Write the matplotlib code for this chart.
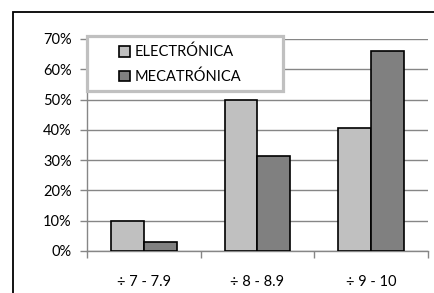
import matplotlib
matplotlib.use("Agg")
import matplotlib.pyplot as plt
import numpy as np
from matplotlib.patches import Rectangle
from matplotlib.ticker import PercentFormatter

# data
categories = ["÷ 7 - 7.9", "÷ 8 - 8.9", "÷ 9 - 10"]
electronica = [10, 50, 40.5]
mecatronica = [3, 31.5, 66]
series_names = ["ELECTRÓNICA", "MECATRÓNICA"]

plt.rcParams['font.family'] = ['Lato', 'DejaVu Sans']

fig = plt.figure(figsize=(4.35, 2.93), dpi=100)

# outer chart frame (only top and left edges fall inside the image)
fig.patches.append(Rectangle((13 / 435, -0.1), 1.2, 1 - 12 / 293 + 0.1,
                             transform=fig.transFigure, fill=False,
                             edgecolor='black', linewidth=1.3))

ax = fig.add_axes([87 / 435, 1 - 251 / 293, 341 / 435, 212 / 293])

x = np.arange(len(categories))
w = 0.29
ax.bar(x - w / 2, electronica, w, color='#c0c0c0', edgecolor='black',
       linewidth=1.2, label=series_names[0], zorder=3)
ax.bar(x + w / 2, mecatronica, w, color='#808080', edgecolor='black',
       linewidth=1.2, label=series_names[1], zorder=3)

ax.set_xlim(-0.5, len(categories) - 0.5)
ax.set_ylim(0, 70)
ax.set_yticks(np.arange(0, 71, 10))
ax.yaxis.set_major_formatter(PercentFormatter(decimals=0))
ax.grid(axis='y', color='#868686', linewidth=1.0, zorder=0)

ax.set_xticks(x)
ax.set_xticklabels(categories)
ax.set_xticks(np.arange(-0.5, len(categories), 1), minor=True)
ax.tick_params(axis='x', which='major', length=0, pad=17, labelsize=10.5)
ax.tick_params(axis='x', which='minor', length=5, color='#868686', width=1.0)
ax.tick_params(axis='y', length=5, color='#868686', width=1.0, pad=6, labelsize=10.5)

for side in ['top', 'right']:
    ax.spines[side].set_visible(False)
for side in ['left', 'bottom']:
    ax.spines[side].set_color('#868686')
    ax.spines[side].set_linewidth(1.0)

# legend box drawn separately so the entries sit centred inside it
box = Rectangle((0.0, 0.755), 0.575, 0.259, transform=ax.transAxes,
                facecolor='white', edgecolor='#c0c0c0', linewidth=2.3,
                zorder=5, clip_on=False)
ax.add_patch(box)

leg = ax.legend(loc='upper left', bbox_to_anchor=(0.094, 0.972),
                frameon=False, fontsize=10.5,
                handlelength=0.75, handleheight=0.75, handletextpad=0.35,
                labelspacing=0.7, borderpad=0.0, borderaxespad=0.0)
leg.set_zorder(6)

fig.savefig("out.png", dpi=100)
